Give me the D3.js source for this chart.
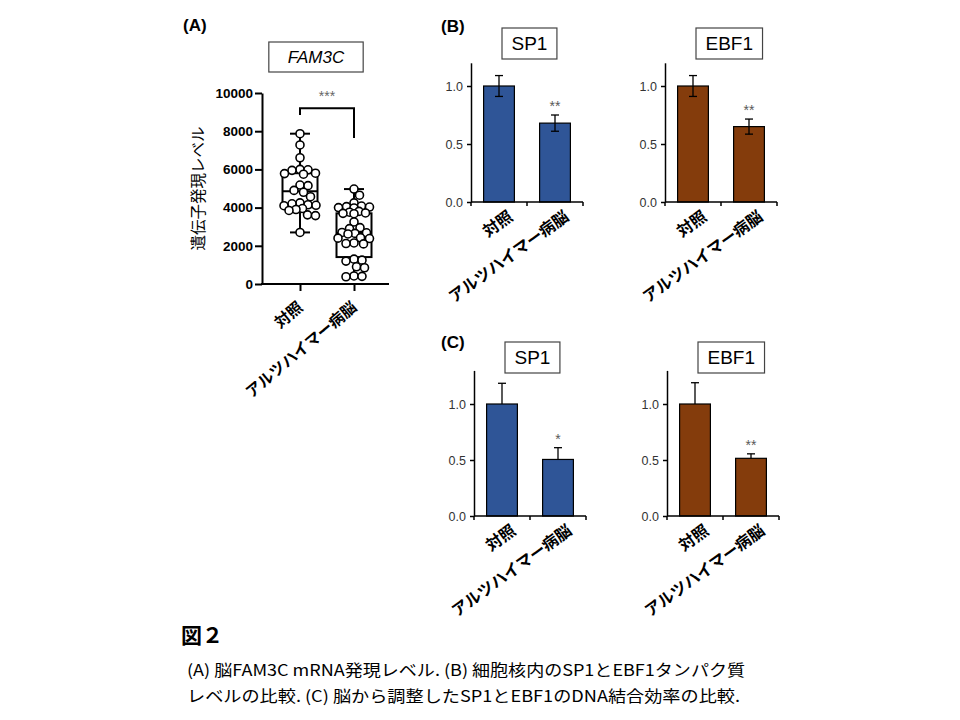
<!DOCTYPE html>
<html>
<head>
<meta charset="utf-8">
<script src="https://cdn.jsdelivr.net/npm/d3@7"></script>
<style>
  body { margin: 0; background: #fff; }
  svg { display: block; }
</style>
</head>
<body>
<div id="wrapper"></div>
<script>
// ---------------------------------------------------
// 1. DATA
// ---------------------------------------------------
const categories = ['対照', 'アルツハイマー病脳']

// (A) FAM3C mRNA
const fam3cTicks = [0, 2000, 4000, 6000, 8000, 10000]
const fam3cControl = [
  7870, 7280, 6610, 6000, 5980, 5950, 5800, 5780, 5750, 5180, 5150, 4900, 4800,
  4570, 4250, 4200, 4150, 4120, 4100, 3950, 3900, 3850, 3620, 3580, 2700,
]
const fam3cAlzheimer = [
  4970, 4650, 4250, 4080, 4050, 4030, 4000, 3980, 3800, 3760, 3720, 3700, 3680,
  3250, 2950, 2900, 2700, 2680, 2650, 2620, 2420, 2400, 2380, 2150, 2120, 2100,
  1300, 1250, 1200, 900, 850, 420, 400, 380,
]
const fam3cMin = [2700, 380]
const fam3cQ1 = [4020, 1410]
const fam3cMedian = [4850, 2670]
const fam3cQ3 = [5800, 3700]
const fam3cMax = [7870, 4970]
// bracket: top line, left leg end, right leg end
const fam3cBracket = [9200, 8850, 7650]
const fam3cMark = '***'

// (B) nuclear protein, (C) DNA binding
const barTicks = [0, 0.5, 1.0]
const sp1ProteinMean = [1.0, 0.68]
const sp1ProteinErr = [0.09, 0.07]
const ebf1ProteinMean = [1.0, 0.65]
const ebf1ProteinErr = [0.09, 0.065]
const sp1BindingMean = [1.0, 0.505]
const sp1BindingErr = [0.185, 0.105]
const ebf1BindingMean = [1.0, 0.515]
const ebf1BindingErr = [0.19, 0.04]

const captionLines = [
  '(A) 脳FAM3C mRNA発現レベル. (B) 細胞核内のSP1とEBF1タンパク質',
  'レベルの比較. (C) 脳から調整したSP1とEBF1のDNA結合効率の比較.',
]

const latin = "'Liberation Sans', Arial, sans-serif"
const jp = "'Noto Sans CJK JP', 'Noto Sans CJK SC', sans-serif"
const blue = '#2f5597'
const brown = '#843c0c'

// ---------------------------------------------------
// 2. CANVAS
// ---------------------------------------------------
const svg = d3
  .select('#wrapper')
  .append('svg')
  .attr('width', 960)
  .attr('height', 720)
  .style('background', '#fff')

// panel letters
const letters = [
  { t: '(A)', x: 183, y: 31 },
  { t: '(B)', x: 441, y: 32 },
  { t: '(C)', x: 441, y: 348 },
]
svg
  .selectAll('text.letter')
  .data(letters)
  .join('text')
  .attr('class', 'letter')
  .attr('x', (d) => d.x)
  .attr('y', (d) => d.y)
  .attr('font-family', latin)
  .attr('font-weight', 'bold')
  .attr('font-size', 17)
  .text((d) => d.t)

// ---------------------------------------------------
// 3. PANEL A - box plot with points
// ---------------------------------------------------
const axisLeftA = 262
const axisRightA = 389
const yA = d3.scaleLinear().domain([0, 10000]).range([284, 93])
const xA = d3.scalePoint().domain(categories).range([300, 354])

const gA = svg.append('g')

// title box
titleBox(gA, 'FAM3C', 316, 42, 30, 17, 'italic', 'middle', 19)

// y axis
const yAxisA = gA
  .append('g')
  .attr('transform', `translate(${axisLeftA},0)`)
  .call(
    d3
      .axisLeft(yA)
      .tickValues(fam3cTicks)
      .tickFormat(d3.format('d'))
      .tickSize(7)
      .tickSizeOuter(0)
      .tickPadding(2)
  )
yAxisA.select('.domain').attr('stroke-width', 2)
yAxisA.selectAll('.tick line').attr('stroke-width', 2)
yAxisA
  .selectAll('.tick text')
  .attr('font-family', latin)
  .attr('font-weight', 'bold')
  .attr('font-size', 13.5)
  .attr('fill', '#000')

gA.append('text')
  .attr('transform', `translate(204,${(yA(0) + yA(10000)) / 2}) rotate(-90)`)
  .attr('text-anchor', 'middle')
  .attr('font-family', jp)
  .attr('font-size', 15.5)
  .text('遺伝子発現レベル')

// x axis
const xAxisA = gA
  .append('g')
  .attr('transform', `translate(0,${yA(0)})`)
  .call(d3.axisBottom(xA).tickSize(7).tickFormat(''))
xAxisA.select('.domain').remove()
xAxisA.selectAll('.tick line').attr('stroke-width', 2)
gA.append('line')
  .attr('x1', axisLeftA - 1)
  .attr('x2', axisRightA)
  .attr('y1', yA(0))
  .attr('y2', yA(0))
  .attr('stroke', '#000')
  .attr('stroke-width', 2)

rotatedLabels(gA, categories.map((c) => ({ text: c, x: xA(c) + 4, y: yA(0) + 25 })), 15.5, -40)

// boxes
const boxW = 35
const capW = 20
const boxData = categories.map((c, i) => ({
  c,
  min: fam3cMin[i],
  q1: fam3cQ1[i],
  median: fam3cMedian[i],
  q3: fam3cQ3[i],
  max: fam3cMax[i],
}))
const boxes = gA
  .selectAll('g.box')
  .data(boxData)
  .join('g')
  .attr('class', 'box')
  .attr('stroke', '#000')
  .attr('stroke-width', 2)
  .attr('fill', 'none')
boxes
  .append('line')
  .attr('x1', (d) => xA(d.c))
  .attr('x2', (d) => xA(d.c))
  .attr('y1', (d) => yA(d.min))
  .attr('y2', (d) => yA(d.max))
boxes
  .append('line')
  .attr('x1', (d) => xA(d.c) - capW / 2)
  .attr('x2', (d) => xA(d.c) + capW / 2)
  .attr('y1', (d) => yA(d.max))
  .attr('y2', (d) => yA(d.max))
boxes
  .append('line')
  .attr('x1', (d) => xA(d.c) - capW / 2)
  .attr('x2', (d) => xA(d.c) + capW / 2)
  .attr('y1', (d) => yA(d.min))
  .attr('y2', (d) => yA(d.min))
boxes
  .append('rect')
  .attr('x', (d) => xA(d.c) - boxW / 2)
  .attr('y', (d) => yA(d.q3))
  .attr('width', boxW)
  .attr('height', (d) => yA(d.q1) - yA(d.q3))
  .attr('fill', '#fff')
boxes
  .append('line')
  .attr('x1', (d) => xA(d.c) - boxW / 2)
  .attr('x2', (d) => xA(d.c) + boxW / 2)
  .attr('y1', (d) => yA(d.median))
  .attr('y2', (d) => yA(d.median))

// points, spread sideways (within the box width) so they overlap little
function swarm(values, cx, minDist, maxSpread) {
  const placed = []
  return values.map((v) => {
    const py = yA(v)
    let best = 0
    let bestGap = -1
    for (let i = 0; i <= maxSpread * 4; i++) {
      const cand = i === 0 ? 0 : (i % 2 ? 1 : -1) * Math.ceil(i / 2) * 0.5
      const gap = placed.length
        ? d3.min(placed, (p) => Math.hypot(p.dx - cand, p.py - py))
        : Infinity
      if (gap >= minDist) {
        best = cand
        bestGap = gap
        break
      }
      if (gap > bestGap + 0.5) {
        best = cand
        bestGap = gap
      }
    }
    placed.push({ dx: best, py })
    return { cx: cx + best, cy: py }
  })
}
const points = [
  ...swarm(fam3cControl, xA(categories[0]), 8, 16),
  ...swarm(fam3cAlzheimer, xA(categories[1]), 8, 16),
]
gA.selectAll('circle.pt')
  .data(points)
  .join('circle')
  .attr('class', 'pt')
  .attr('cx', (d) => d.cx)
  .attr('cy', (d) => d.cy)
  .attr('r', 4)
  .attr('fill', '#fff')
  .attr('stroke', '#000')
  .attr('stroke-width', 1.6)

// significance bracket
const [bTop, bLeft, bRight] = fam3cBracket
const x0 = xA(categories[0])
const x1 = xA(categories[1])
gA.append('path')
  .attr('d', `M${x0},${yA(bLeft)}V${yA(bTop)}H${x1}V${yA(bRight)}`)
  .attr('fill', 'none')
  .attr('stroke', '#000')
  .attr('stroke-width', 2)
gA.append('text')
  .attr('x', (x0 + x1) / 2)
  .attr('y', yA(bTop) - 7)
  .attr('text-anchor', 'middle')
  .attr('font-family', latin)
  .attr('font-size', 14)
  .attr('fill', '#666')
  .text(fam3cMark)

// ---------------------------------------------------
// 4. PANELS B and C - bar charts
// ---------------------------------------------------
const barPanels = [
  { left: 471, zero: 202, unit: 116, yMax: 1.2, boxTop: 28, title: 'SP1',
    mean: sp1ProteinMean, err: sp1ProteinErr, both: true, color: blue, marks: ['', '**'] },
  { left: 665, zero: 202, unit: 116, yMax: 1.2, boxTop: 28, title: 'EBF1',
    mean: ebf1ProteinMean, err: ebf1ProteinErr, both: true, color: brown, marks: ['', '**'] },
  { left: 474, zero: 516, unit: 112, yMax: 1.3, boxTop: 342, title: 'SP1',
    mean: sp1BindingMean, err: sp1BindingErr, both: false, color: blue, marks: ['', '*'] },
  { left: 667, zero: 516, unit: 112, yMax: 1.3, boxTop: 342, title: 'EBF1',
    mean: ebf1BindingMean, err: ebf1BindingErr, both: false, color: brown, marks: ['', '**'] },
]

barPanels.forEach(drawBarPanel)

function drawBarPanel(p) {
  const width = 112
  const g = svg.append('g').attr('transform', `translate(${p.left},0)`)
  const y = d3
    .scaleLinear()
    .domain([0, p.yMax])
    .range([p.zero, p.zero - p.yMax * p.unit])
  const x = d3
    .scaleBand()
    .domain(categories)
    .range([0, width])
    .paddingInner(0.45)
    .paddingOuter(0.225)

  const rows = categories.map((c, i) => ({
    c,
    mean: p.mean[i],
    err: p.err[i],
    mark: p.marks[i],
  }))

  // bars
  g.selectAll('rect.bar')
    .data(rows)
    .join('rect')
    .attr('class', 'bar')
    .attr('x', (d) => x(d.c))
    .attr('y', (d) => y(d.mean))
    .attr('width', x.bandwidth())
    .attr('height', (d) => y(0) - y(d.mean))
    .attr('fill', p.color)
    .attr('stroke', '#000')
    .attr('stroke-width', 1.2)

  // error bars
  const cx = (d) => x(d.c) + x.bandwidth() / 2
  const eb = g.selectAll('g.err').data(rows).join('g').attr('stroke', '#000').attr('stroke-width', 1.3)
  eb.append('line')
    .attr('x1', cx)
    .attr('x2', cx)
    .attr('y1', (d) => y(p.both ? d.mean - d.err : d.mean))
    .attr('y2', (d) => y(d.mean + d.err))
  eb.append('line')
    .attr('x1', (d) => cx(d) - 4)
    .attr('x2', (d) => cx(d) + 4)
    .attr('y1', (d) => y(d.mean + d.err))
    .attr('y2', (d) => y(d.mean + d.err))
  if (p.both) {
    eb.append('line')
      .attr('x1', (d) => cx(d) - 4)
      .attr('x2', (d) => cx(d) + 4)
      .attr('y1', (d) => y(d.mean - d.err))
      .attr('y2', (d) => y(d.mean - d.err))
  }

  // significance marks
  g.selectAll('text.mark')
    .data(rows)
    .join('text')
    .attr('class', 'mark')
    .attr('x', cx)
    .attr('y', (d) => y(d.mean + d.err) - 4)
    .attr('text-anchor', 'middle')
    .attr('font-family', latin)
    .attr('font-size', 14)
    .attr('fill', '#595959')
    .text((d) => d.mark)

  // y axis
  const yAxis = g
    .append('g')
    .call(
      d3.axisLeft(y).tickValues(barTicks).tickFormat(d3.format('.1f')).tickSize(4).tickSizeOuter(0).tickPadding(4)
    )
  yAxis.select('.domain').attr('stroke-width', 1.5)
  yAxis.selectAll('.tick line').attr('stroke-width', 1.5)
  yAxis
    .selectAll('.tick text')
    .attr('font-family', latin)
    .attr('font-size', 12.5)
    .attr('fill', '#333')

  // x axis with ticks at category boundaries
  const bounds = d3.range(categories.length + 1).map((i) => (i * width) / categories.length)
  g.append('line')
    .attr('x1', 0)
    .attr('x2', width)
    .attr('y1', y(0))
    .attr('y2', y(0))
    .attr('stroke', '#000')
    .attr('stroke-width', 1.5)
  g.selectAll('line.xtick')
    .data(bounds)
    .join('line')
    .attr('class', 'xtick')
    .attr('x1', (d) => d)
    .attr('x2', (d) => d)
    .attr('y1', y(0))
    .attr('y2', y(0) + 4)
    .attr('stroke', '#000')
    .attr('stroke-width', 1.5)

  rotatedLabels(g, rows.map((d) => ({ text: d.c, x: cx(d) + 15, y: y(0) + 17 })), 16, -36)

  titleBox(g, p.title, 31, p.boxTop, 31, 19, 'normal', 'start', 9.5)
}

// ---------------------------------------------------
// 5. HELPERS
// ---------------------------------------------------
function titleBox(g, label, x, top, h, size, style, anchor, pad) {
  const t = g
    .append('text')
    .attr('font-family', latin)
    .attr('font-size', size)
    .attr('font-style', style)
    .attr('y', top + h / 2 + size * 0.36)
    .text(label)
  const w = t.node().getComputedTextLength()
  const left = anchor === 'middle' ? x - w / 2 - pad : x
  t.attr('x', left + pad)
  g.insert('rect', 'text')
    .attr('x', left)
    .attr('y', top)
    .attr('width', w + pad * 2)
    .attr('height', h)
    .attr('fill', '#fff')
    .attr('stroke', '#444')
    .attr('stroke-width', 1.2)
}

function rotatedLabels(g, items, size, angle) {
  g.selectAll(null)
    .data(items)
    .join('text')
    .attr('transform', (d) => `translate(${d.x},${d.y}) rotate(${angle})`)
    .attr('text-anchor', 'end')
    .attr('font-family', jp)
    .attr('font-weight', 'bold')
    .attr('font-size', size)
    .text((d) => d.text)
}

// ---------------------------------------------------
// 6. CAPTION
// ---------------------------------------------------
svg.append('text')
  .attr('x', 181)
  .attr('y', 643)
  .attr('font-family', jp)
  .attr('font-weight', 'bold')
  .attr('font-size', 21)
  .text('図２')

const captionWidths = [558, 553]
svg.selectAll('text.caption')
  .data(captionLines)
  .join('text')
  .attr('class', 'caption')
  .attr('x', 187)
  .attr('y', (d, i) => 676 + i * 26)
  .attr('font-family', jp)
  .attr('font-size', 16)
  .attr('textLength', (d, i) => captionWidths[i])
  .attr('lengthAdjust', 'spacingAndGlyphs')
  .text((d) => d)
</script>
</body>
</html>
